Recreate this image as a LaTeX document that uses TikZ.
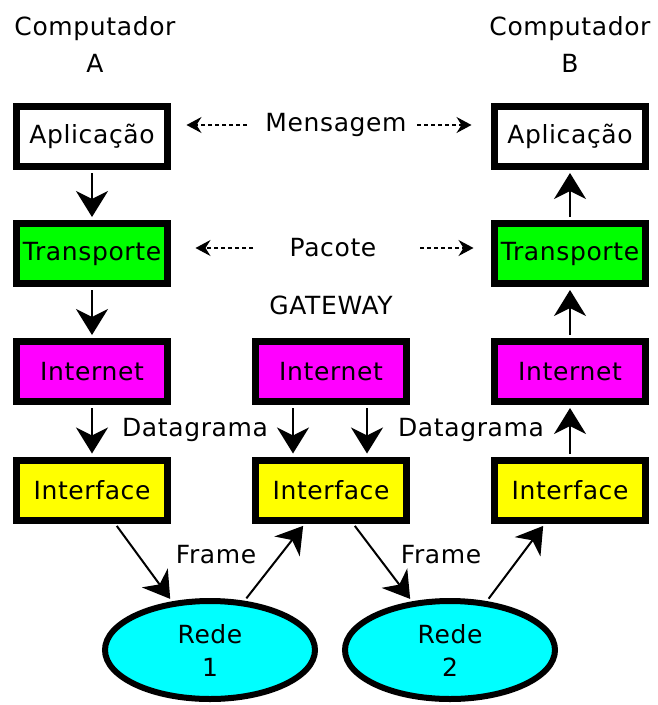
\documentclass[tikz,border=0pt]{standalone}
\usepackage{fontspec}
\setmainfont{DejaVu Sans}[LetterSpace=2.5]
\usetikzlibrary{arrows.meta,shapes.geometric,calc}
\definecolor{cgreen}{RGB}{0,255,0}
\definecolor{cmag}{RGB}{255,0,255}
\definecolor{cyel}{RGB}{255,255,0}
\definecolor{ccyan}{RGB}{0,255,255}
\begin{document}
\begin{tikzpicture}[x=1pt,y=-1pt,
  every node/.style={font=\fontsize{25}{33}\selectfont, inner sep=0pt},
  layer/.style={draw, line width=7pt, minimum width=151pt, minimum height=60pt},
  net/.style={ellipse, draw, line width=6pt, fill=ccyan, minimum width=210pt, minimum height=98pt, align=center},
  lbl/.style={align=center, font=\fontsize{25}{37}\selectfont},
  flow/.style={line width=2pt, -{Stealth[length=26pt,width=32pt,inset=8pt]}, shorten >=3pt, shorten <=3pt},
  peer/.style={line width=1.3pt, dash pattern=on 4pt off 3pt, -{Stealth[length=15pt,width=16pt,inset=5pt]}}
]
\useasboundingbox (0,0) rectangle (658,705);
% titles
\node[lbl] (ca) at (95,44) {Computador\\A};
\node[lbl] (cb) at (570,44) {Computador\\B};
\node (gw) at (331,305) {GATEWAY};
% column A
\node[layer, fill=white] (appA) at (92,136.5) {Aplicação};
\node[layer, fill=cgreen] (trA) at (92,253.5) {Transporte};
\node[layer, fill=cmag] (inA) at (92,371.5) {Internet};
\node[layer, fill=cyel] (ifA) at (92,490) {Interface};
% gateway
\node[layer, fill=cmag] (inG) at (331,371.5) {Internet};
\node[layer, fill=cyel] (ifG) at (331,490) {Interface};
% column B
\node[layer, fill=white] (appB) at (570,136.5) {Aplicação};
\node[layer, fill=cgreen] (trB) at (570,253.5) {Transporte};
\node[layer, fill=cmag] (inB) at (570,371.5) {Internet};
\node[layer, fill=cyel] (ifB) at (570,490) {Interface};
% networks
\node[net] (r1) at (210,650) {Rede\\1};
\node[net] (r2) at (450,650) {Rede\\2};
% labels
\node (msg) at (336,125) {Mensagem};
\node (pac) at (333,248) {Pacote};
\node (dgA) at (195,430) {Datagrama};
\node (dgB) at (471,430) {Datagrama};
\node (frA) at (216,555) {Frame};
\node (frB) at (441,555) {Frame};
% vertical flows
\draw[flow] (appA) -- (trA);
\draw[flow] (trA) -- (inA);
\draw[flow] (inA) -- (ifA);
\draw[flow] ([xshift=-38pt]inG.south) -- ([xshift=-38pt]ifG.north);
\draw[flow] ([xshift=36pt]inG.south) -- ([xshift=36pt]ifG.north);
\draw[flow] (ifB) -- (inB);
\draw[flow] (inB) -- (trB);
\draw[flow] (trB) -- (appB);
% diagonal flows
\draw[flow] ([xshift=23pt]ifA.south) -- (r1.128);
\draw[flow] (r1.55) -- ([xshift=-26pt]ifG.south);
\draw[flow] ([xshift=22pt]ifG.south) -- (r2.128);
\draw[flow] (r2.53) -- ([xshift=-25pt]ifB.south);
% peer dashed arrows
\coordinate (m1) at (247,125);
\coordinate (m2) at (417,125);
\coordinate (p1) at (253,248);
\coordinate (p2) at (420,248);
\draw[peer] (m1) -- ($(appA.east |- m1)+(15.5,0)$);
\draw[peer] (m2) -- ($(appB.west |- m2)+(-19.5,0)$);
\draw[peer] (p1) -- ($(trA.east |- p1)+(24.5,0)$);
\draw[peer] (p2) -- ($(trB.west |- p2)+(-17.5,0)$);
\end{tikzpicture}
\end{document}
